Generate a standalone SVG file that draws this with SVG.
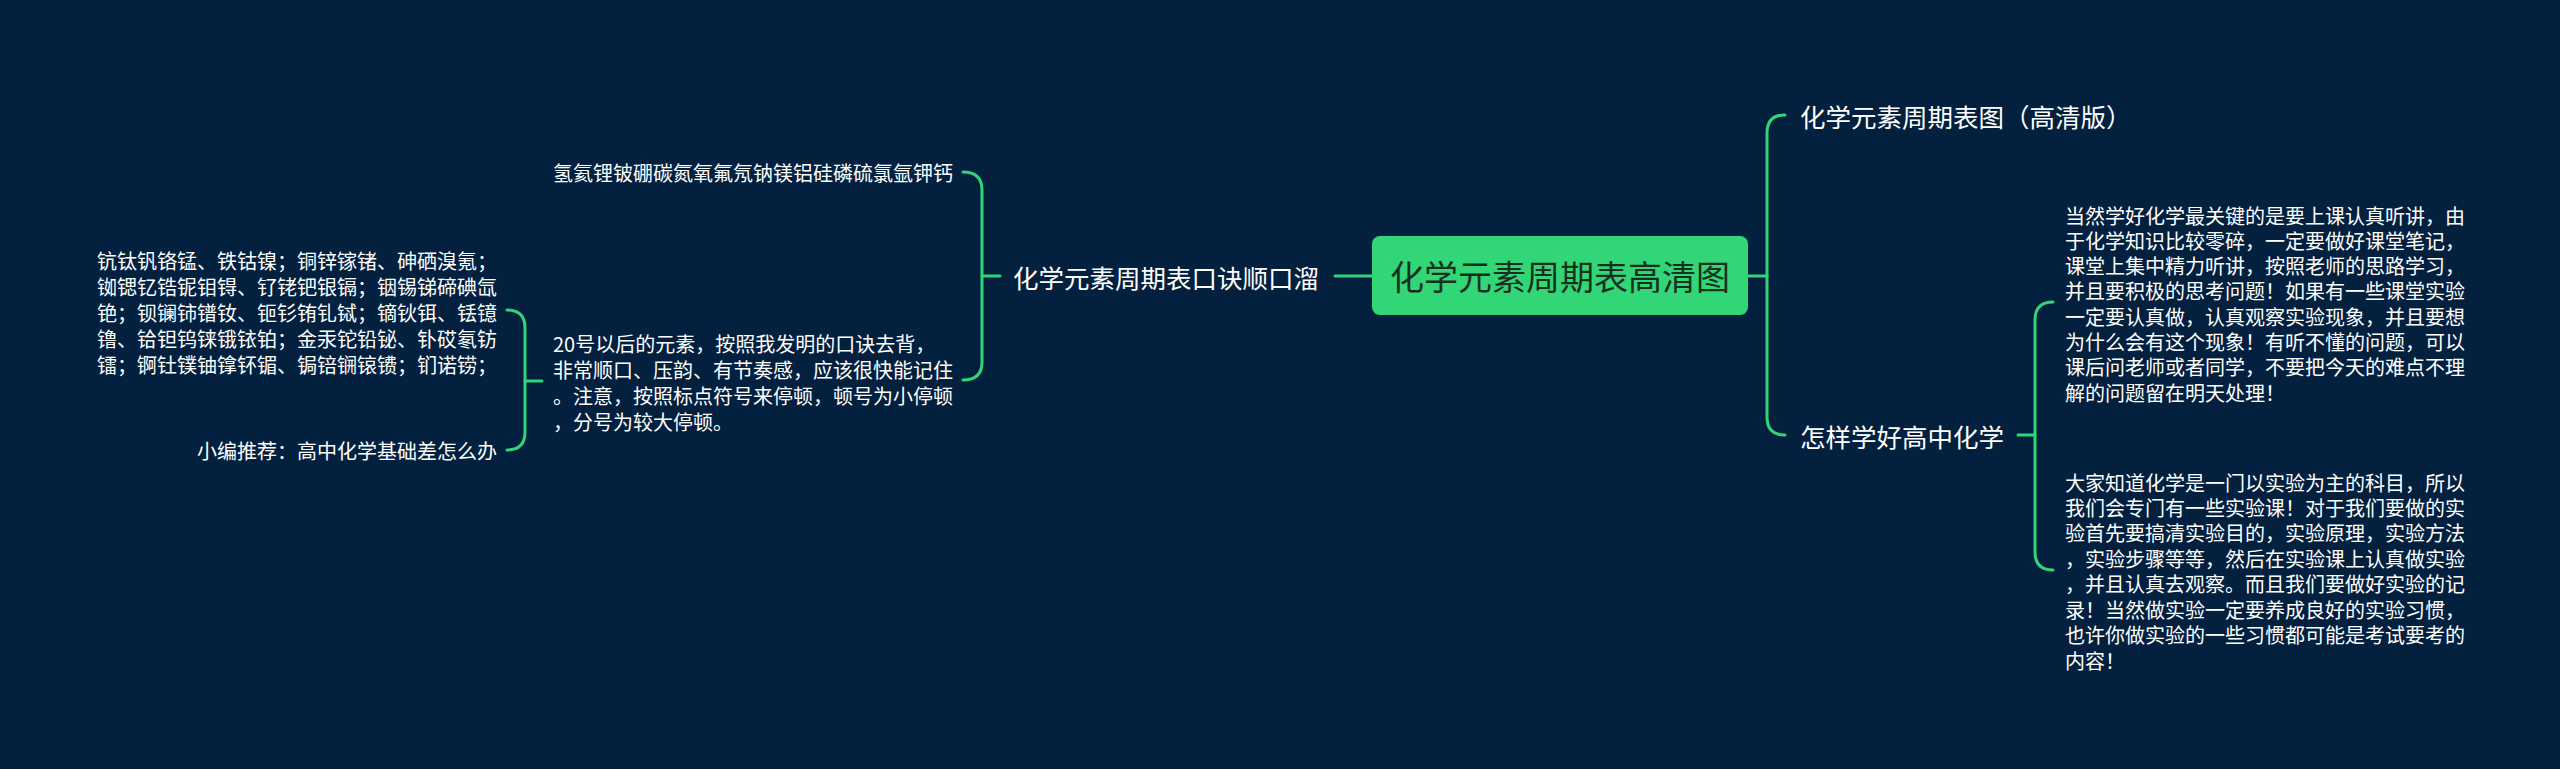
<svg xmlns="http://www.w3.org/2000/svg" width="2560" height="769" viewBox="0 0 2560 769">
<style>
.bg{fill:#03213f}
.ln{fill:none;stroke:#33d477;stroke-width:3;stroke-linecap:round}
.t{font-family:"Noto Sans CJK SC","Noto Sans",sans-serif;fill:#ffffff;dominant-baseline:central}
.p{font-size:20px}
.b{font-size:25.5px}
.r{font-size:34px;fill:#17301f}
</style>
<rect class="bg" x="0" y="0" width="2560" height="769"/>
<g id="connectors">
<path class="ln" d="M1335 276 H1372"/>
<path class="ln" d="M982 276 H1000"/>
<path class="ln" d="M963 172 Q982 172 982 190 V362 Q982 380 963 380"/>
<path class="ln" d="M525 381 H542"/>
<path class="ln" d="M507 310 Q525 310 525 328 V432 Q525 450 507 450"/>
<path class="ln" d="M1748 276 H1767"/>
<path class="ln" d="M1785 115 Q1767 115 1767 133 V417 Q1767 435 1785 435"/>
<path class="ln" d="M2018 435 H2035"/>
<path class="ln" d="M2053 302 Q2035 302 2035 320 V552 Q2035 570 2053 570"/>
</g>
<g id="root">
<rect x="1372" y="236" width="376" height="79" rx="8" fill="#33d677"/>
<text class="t r" x="1560" y="275" text-anchor="middle">化学元素周期表高清图</text>
</g>
<g id="branch-left">
<text class="t b" x="1013" y="276">化学元素周期表口诀顺口溜</text>
</g>
<g id="leaf-hydrogen">
<text class="t p" x="553" y="172">氢氦锂铍硼碳氮氧氟氖钠镁铝硅磷硫氯氩钾钙</text>
</g>
<g id="leaf-20">
<text class="t p" x="553" y="343">20号以后的元素，按照我发明的口诀去背，</text>
<text class="t p" x="553" y="369">非常顺口、压韵、有节奏感，应该很快能记住</text>
<text class="t p" x="553" y="395">。注意，按照标点符号来停顿，顿号为小停顿</text>
<text class="t p" x="553" y="421">，分号为较大停顿。</text>
</g>
<g id="leaf-elements">
<text class="t p" x="97" y="260">钪钛钒铬锰、铁钴镍；铜锌镓锗、砷硒溴氪；</text>
<text class="t p" x="97" y="286">铷锶钇锆铌钼锝、钌铑钯银镉；铟锡锑碲碘氙</text>
<text class="t p" x="97" y="312">铯；钡镧铈镨钕、钷钐铕钆铽；镝钬铒、铥镱</text>
<text class="t p" x="97" y="338">镥、铪钽钨铼锇铱铂；金汞铊铅铋、钋砹氡钫</text>
<text class="t p" x="97" y="364">镭；锕钍镤铀镎钚镅、锔锫锎锿镄；钔诺铹；</text>
</g>
<g id="leaf-recommend">
<text class="t p" x="497" y="450" text-anchor="end">小编推荐：高中化学基础差怎么办</text>
</g>
<g id="branch-right-1">
<text class="t b" x="1800" y="115">化学元素周期表图（高清版）</text>
</g>
<g id="branch-right-2">
<text class="t b" x="1800" y="435">怎样学好高中化学</text>
</g>
<g id="leaf-study-1">
<text class="t p" x="2065" y="215">当然学好化学最关键的是要上课认真听讲，由</text>
<text class="t p" x="2065" y="240.3">于化学知识比较零碎，一定要做好课堂笔记，</text>
<text class="t p" x="2065" y="265.6">课堂上集中精力听讲，按照老师的思路学习，</text>
<text class="t p" x="2065" y="290.9">并且要积极的思考问题！如果有一些课堂实验</text>
<text class="t p" x="2065" y="316.2">一定要认真做，认真观察实验现象，并且要想</text>
<text class="t p" x="2065" y="341.5">为什么会有这个现象！有听不懂的问题，可以</text>
<text class="t p" x="2065" y="366.8">课后问老师或者同学，不要把今天的难点不理</text>
<text class="t p" x="2065" y="392">解的问题留在明天处理！</text>
</g>
<g id="leaf-study-2">
<text class="t p" x="2065" y="482">大家知道化学是一门以实验为主的科目，所以</text>
<text class="t p" x="2065" y="507.4">我们会专门有一些实验课！对于我们要做的实</text>
<text class="t p" x="2065" y="532.8">验首先要搞清实验目的，实验原理，实验方法</text>
<text class="t p" x="2065" y="558.2">，实验步骤等等，然后在实验课上认真做实验</text>
<text class="t p" x="2065" y="583.6">，并且认真去观察。而且我们要做好实验的记</text>
<text class="t p" x="2065" y="609">录！当然做实验一定要养成良好的实验习惯，</text>
<text class="t p" x="2065" y="634.4">也许你做实验的一些习惯都可能是考试要考的</text>
<text class="t p" x="2065" y="660">内容！</text>
</g>
</svg>
